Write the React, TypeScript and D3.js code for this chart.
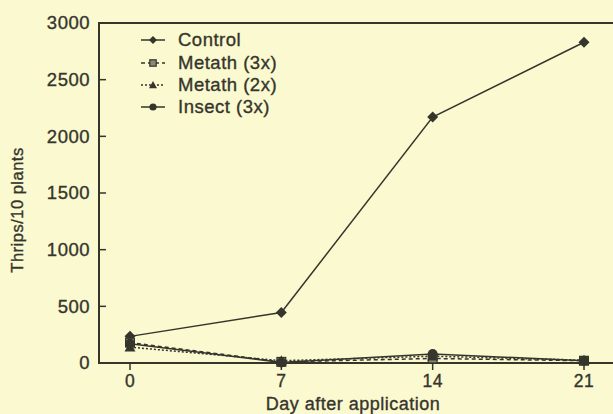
import React from "react";
import * as d3 from "d3";

const days = [0, 7, 14, 21];
const yTicks = [0, 500, 1000, 1500, 2000, 2500, 3000];
const control = [235, 445, 2170, 2830];
const metath3x = [180, 10, 40, 20];
const metath2x = [140, 20, 60, 25];
const insect3x = [170, 5, 80, 20];
const seriesNames = ["Control", "Metath (3x)", "Metath (2x)", "Insect (3x)"];

const W = 613, H = 414;
const bg = "#fbf9d0";
const ink = "#35352c";
const font = "Liberation Sans, Arial, sans-serif";

export default function App() {
  const x = d3.scaleLinear().domain([0, 21]).range([130, 584]);
  const y = d3.scaleLinear().domain([0, 3000]).range([363, 23]);
  const line = d3.line<number>().x((_, i) => x(days[i])).y((d) => y(d));

  const series = [
    { name: seriesNames[0], data: control, marker: "diamond", dash: undefined },
    { name: seriesNames[1], data: metath3x, marker: "square", dash: "4,3" },
    { name: seriesNames[2], data: metath2x, marker: "triangle", dash: "2,2" },
    { name: seriesNames[3], data: insect3x, marker: "circle", dash: undefined },
  ];

  const marker = (type: string, cx: number, cy: number, key: string | number, s = 5.5) => {
    if (type === "diamond")
      return <path key={key} d={`M${cx},${cy - s} L${cx + s},${cy} L${cx},${cy + s} L${cx - s},${cy} Z`} fill={ink} />;
    if (type === "square")
      return <rect key={key} x={cx - s * 0.8} y={cy - s * 0.8} width={s * 1.6} height={s * 1.6} fill="#8a8a78" stroke={ink} strokeWidth={1.2} />;
    if (type === "triangle")
      return <path key={key} d={`M${cx},${cy - s} L${cx + s},${cy + s * 0.8} L${cx - s},${cy + s * 0.8} Z`} fill={ink} />;
    return <circle key={key} cx={cx} cy={cy} r={s * 0.9} fill={ink} />;
  };

  const legendY = [40, 63, 85, 107];
  const txt = { fontFamily: font, fill: ink, stroke: ink, strokeWidth: 0.35, letterSpacing: 0.5 };

  return (
    <svg width={W} height={H} style={{ position: "absolute", left: 0, top: 0, background: bg }}>
      <rect x={0} y={0} width={W} height={H} fill={bg} />
      {/* axes */}
      <line x1={99} y1={23} x2={W} y2={23} stroke={ink} strokeWidth={2} />
      <line x1={99} y1={22} x2={99} y2={364} stroke={ink} strokeWidth={2} />
      <line x1={98} y1={363} x2={W} y2={363} stroke={ink} strokeWidth={2} />
      {yTicks.map((t) => (
        <g key={t}>
          {t > 0 && t < 3000 && <line x1={99} x2={106} y1={y(t)} y2={y(t)} stroke={ink} strokeWidth={1.5} />}
          <text x={90} y={y(t)} dy="0.35em" textAnchor="end" fontSize={18.5} {...txt}>
            {t}
          </text>
        </g>
      ))}
      {days.map((d) => (
        <g key={d}>
          <line x1={x(d)} x2={x(d)} y1={363} y2={370} stroke={ink} strokeWidth={1.5} />
          <text x={x(d)} y={381} dy="0.35em" textAnchor="middle" fontSize={17.5} {...txt}>
            {d}
          </text>
        </g>
      ))}
      <text x={353} y={410} textAnchor="middle" fontSize={18} {...txt}>
        Day after application
      </text>
      <text transform={`translate(23,${210}) rotate(-90)`} textAnchor="middle" fontSize={16.5} {...txt}>
        Thrips/10 plants
      </text>
      {/* series */}
      {series.map((s) => (
        <g key={s.name}>
          <path d={line(s.data) || ""} fill="none" stroke={ink} strokeWidth={1.5} strokeDasharray={s.dash} />
          {s.data.map((v, i) => marker(s.marker, x(days[i]), y(v), i))}
        </g>
      ))}
      {/* legend */}
      {series.map((s, i) => (
        <g key={"l" + s.name}>
          <line x1={141} x2={165} y1={legendY[i]} y2={legendY[i]} stroke={ink} strokeWidth={1.5} strokeDasharray={s.dash} />
          {marker(s.marker, 153, legendY[i], "m" + i, 4)}
          <text x={178} y={legendY[i]} dy="0.35em" fontSize={18.5} {...txt}>
            {s.name}
          </text>
        </g>
      ))}
    </svg>
  );
}
